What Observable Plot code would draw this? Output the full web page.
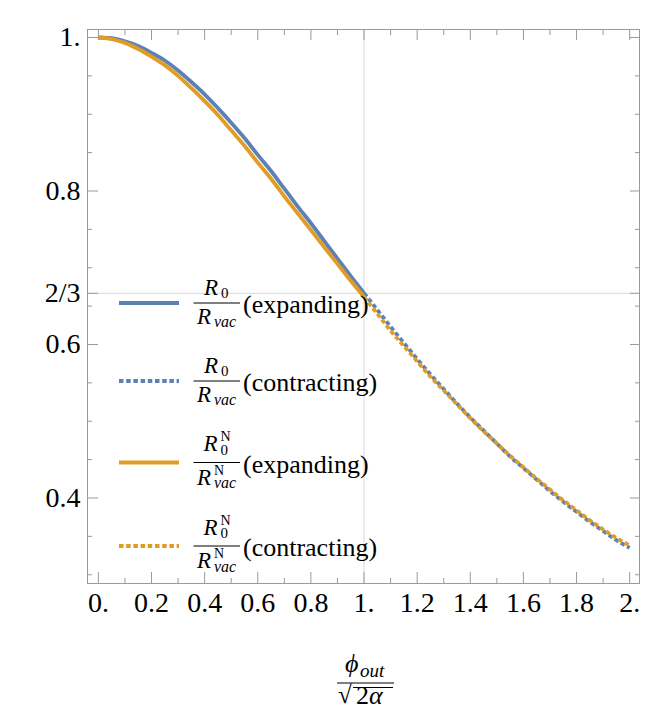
<!DOCTYPE html>
<html>
<head>
<meta charset="utf-8">
<script src="https://cdn.jsdelivr.net/npm/d3@7"></script>
<script src="https://cdn.jsdelivr.net/npm/@observablehq/plot@0.6"></script>
<style>
  html, body { margin: 0; padding: 0; background: #ffffff; }
  #chart svg { display: block; }
</style>
</head>
<body>
<div id="chart"></div>
<script>
// ---------- data ----------
const xExpanding = [0, 0.05, 0.1, 0.15, 0.2, 0.25, 0.3, 0.35, 0.4, 0.45, 0.5, 0.55, 0.6, 0.65, 0.7, 0.75, 0.8, 0.85, 0.9, 0.95, 1.0];
const blueExpanding = [1.000, 0.999, 0.995, 0.989, 0.980, 0.970, 0.957, 0.942, 0.926, 0.908, 0.889, 0.869, 0.847, 0.826, 0.803, 0.780, 0.758, 0.735, 0.712, 0.689, 0.667];
const orangeExpanding = [1.000, 0.998, 0.993, 0.985, 0.975, 0.964, 0.950, 0.934, 0.917, 0.899, 0.879, 0.859, 0.837, 0.816, 0.793, 0.771, 0.749, 0.727, 0.705, 0.683, 0.662];

const xContracting = [1.0, 1.05, 1.1, 1.15, 1.2, 1.25, 1.3, 1.35, 1.4, 1.45, 1.5, 1.55, 1.6, 1.65, 1.7, 1.75, 1.8, 1.85, 1.9, 1.95, 2.0];
const blueContracting = [0.667, 0.645, 0.623, 0.602, 0.581, 0.561, 0.542, 0.523, 0.505, 0.488, 0.471, 0.454, 0.439, 0.424, 0.409, 0.395, 0.382, 0.369, 0.357, 0.345, 0.335];
const orangeContracting = [0.662, 0.640, 0.618, 0.598, 0.578, 0.558, 0.540, 0.522, 0.504, 0.487, 0.471, 0.455, 0.440, 0.425, 0.411, 0.397, 0.384, 0.371, 0.359, 0.348, 0.338];

const xTickValues = [0, 0.2, 0.4, 0.6, 0.8, 1.0, 1.2, 1.4, 1.6, 1.8, 2.0];
const xTickLabels = ["0.", "0.2", "0.4", "0.6", "0.8", "1.", "1.2", "1.4", "1.6", "1.8", "2."];
const xMinorTicks = [0.1, 0.3, 0.5, 0.7, 0.9, 1.1, 1.3, 1.5, 1.7, 1.9];

const yTickValues = [0.4, 0.6, 2 / 3, 0.8, 1.0];
const yTickLabels = ["0.4", "0.6", "2/3", "0.8", "1."];
const yMinorTicks = [0.3, 0.35, 0.45, 0.5, 0.55, 0.65, 0.7, 0.75, 0.85, 0.9, 0.95];

const gridX = [1];
const gridY = [2 / 3];

const seriesColors = ["#5E81B5", "#5E81B5", "#E19C24", "#E19C24"];
const seriesDashed = [false, true, false, true];
const seriesNewtonian = [false, false, true, true];
const seriesLabels = ["(expanding)", "(contracting)", "(expanding)", "(contracting)"];

// ---------- tables ----------
const expRows = xExpanding.map((x, i) => ({x, blue: blueExpanding[i], orange: orangeExpanding[i]}));
const conRows = xContracting.map((x, i) => ({x, blue: blueContracting[i], orange: orangeContracting[i]}));
const xLabelMap = new Map(xTickValues.map((v, i) => [v, xTickLabels[i]]));
const yLabelMap = new Map(yTickValues.map((v, i) => [v, yTickLabels[i]]));

const FONT = "'Liberation Serif', 'DejaVu Serif', serif";
const TICK = "#9a9a9a";
const GRID = "#d9d9d9";
const DASH = "4.5,2.7";
const LW = 3.8;

const chart = Plot.plot({
  width: 646,
  height: 709,
  marginLeft: 87,
  marginRight: 7,
  marginTop: 29,
  marginBottom: 126,
  x: {domain: [-0.041, 2.037], label: null},
  y: {domain: [0.2886, 1.0104], label: null},
  style: {fontFamily: FONT, fontSize: "28px", background: "#ffffff", color: "#000000"},
  marks: [
    Plot.ruleX(gridX, {stroke: GRID, strokeWidth: 1}),
    Plot.ruleY(gridY, {stroke: GRID, strokeWidth: 1}),
    Plot.frame({stroke: TICK, strokeWidth: 1}),
    // inward ticks on all four sides
    Plot.axisX(xTickValues, {anchor: "bottom", tickSize: -11, stroke: TICK, fill: "none", label: null}),
    Plot.axisX(xMinorTicks, {anchor: "bottom", tickSize: -5, stroke: TICK, fill: "none", label: null}),
    Plot.axisX(xTickValues, {anchor: "top", tickSize: -10, stroke: TICK, fill: "none", label: null}),
    Plot.axisX(xMinorTicks, {anchor: "top", tickSize: -5, stroke: TICK, fill: "none", label: null}),
    Plot.axisY(yTickValues, {anchor: "left", tickSize: -11, stroke: TICK, fill: "none", label: null}),
    Plot.axisY(yMinorTicks, {anchor: "left", tickSize: -5, stroke: TICK, fill: "none", label: null}),
    Plot.axisY(yTickValues, {anchor: "right", tickSize: -10, stroke: TICK, fill: "none", label: null}),
    Plot.axisY(yMinorTicks, {anchor: "right", tickSize: -5, stroke: TICK, fill: "none", label: null}),
    // tick labels
    Plot.axisX(xTickValues, {anchor: "bottom", tickSize: 0, tickPadding: 9, fontSize: 28, fill: "#000", tickFormat: d => xLabelMap.get(d), label: null}),
    Plot.axisY(yTickValues, {anchor: "left", tickSize: 0, tickPadding: 7, fontSize: 28, fill: "#000", tickFormat: d => yLabelMap.get(d), label: null}),
    // curves
    Plot.line(expRows, {x: "x", y: "blue", stroke: seriesColors[0], strokeWidth: LW, strokeLinecap: "butt", curve: "monotone-x"}),
    Plot.line(conRows, {x: "x", y: "blue", stroke: seriesColors[1], strokeWidth: LW, strokeLinecap: "butt", strokeDasharray: DASH, curve: "monotone-x"}),
    Plot.line(expRows, {x: "x", y: "orange", stroke: seriesColors[2], strokeWidth: LW, strokeLinecap: "butt", curve: "monotone-x"}),
    Plot.line(conRows, {x: "x", y: "orange", stroke: seriesColors[3], strokeWidth: LW, strokeLinecap: "butt", strokeDasharray: DASH, curve: "monotone-x"})
  ]
});
document.getElementById("chart").appendChild(chart);

// ---------- helpers ----------
const svg = d3.select(chart);
function txt(g, x, y, s, size, italic) {
  const t = g.append("text").attr("x", x).attr("y", y).attr("font-size", size)
    .attr("font-family", FONT).attr("text-anchor", "start")
    .attr("fill", "#000").attr("stroke", "none").text(s);
  if (italic) t.attr("font-style", "italic");
  return t;
}
// R with optional superscript N and a subscript, as one text element
function symR(g, x, y, sub, subItalic, sup) {
  const t = g.append("text").attr("x", x).attr("y", y).attr("font-family", FONT)
    .attr("text-anchor", "start").attr("fill", "#000").attr("stroke", "none");
  t.append("tspan").attr("font-size", 23).attr("font-style", "italic").text("R");
  const sx = x + 17;
  if (sup) {
    t.append("tspan").attr("x", sx).attr("y", y - 10).attr("font-size", 14).text(sup);
    t.append("tspan").attr("x", sx).attr("y", y + 3.5).attr("font-size", subItalic ? 16 : 15)
      .attr("font-style", subItalic ? "italic" : null).text(sub);
  } else {
    t.append("tspan").attr("x", sx).attr("y", y + 3.5).attr("font-size", subItalic ? 16 : 15)
      .attr("font-style", subItalic ? "italic" : null).text(sub);
  }
  return t;
}

// ---------- legend (inside the frame) ----------
const legendBarY = [303, 381, 462.5, 546];
const lg = svg.append("g").attr("class", "legend").attr("text-anchor", "start");
seriesLabels.forEach((label, i) => {
  const g = lg.append("g").attr("transform", `translate(0,${legendBarY[i]})`);
  g.append("line").attr("x1", 119).attr("x2", 179).attr("y1", 0).attr("y2", 0)
    .attr("stroke", seriesColors[i]).attr("stroke-width", LW)
    .attr("stroke-dasharray", seriesDashed[i] ? DASH : null);
  g.append("line").attr("x1", 193.5).attr("x2", 240).attr("y1", 0).attr("y2", 0)
    .attr("stroke", "#000").attr("stroke-width", 1);
  if (!seriesNewtonian[i]) {
    symR(g, 204, -8.5, "0", false, null);
    symR(g, 197, 20.5, "vac", true, null);
  } else {
    symR(g, 203.5, -11.5, "0", false, "N");
    symR(g, 197, 22, "vac", true, "N");
  }
  txt(g, 243, 10, label, 26, false);
});

// ---------- x-axis title: phi_out / sqrt(2 alpha) ----------
const tg = svg.append("g").attr("class", "xtitle").attr("text-anchor", "start");
const num = tg.append("text").attr("x", 345).attr("y", 672).attr("font-family", FONT)
  .attr("text-anchor", "start").attr("fill", "#000");
num.append("tspan").attr("font-size", 26).attr("font-style", "italic").text("ϕ");
num.append("tspan").attr("x", 360).attr("y", 677).attr("font-size", 19).attr("font-style", "italic").text("out");
tg.append("line").attr("x1", 337).attr("x2", 394).attr("y1", 683).attr("y2", 683)
  .attr("stroke", "#000").attr("stroke-width", 1);
tg.append("line").attr("x1", 353).attr("x2", 393).attr("y1", 687.5).attr("y2", 687.5)
  .attr("stroke", "#000").attr("stroke-width", 1);
const den = tg.append("text").attr("x", 338).attr("y", 703).attr("font-family", FONT)
  .attr("text-anchor", "start").attr("fill", "#000");
den.append("tspan").attr("font-size", 25).text("√");
den.append("tspan").attr("x", 356).attr("y", 704).attr("font-size", 26).text("2");
den.append("tspan").attr("x", 369).attr("y", 704).attr("font-size", 26).attr("font-style", "italic").text("α");
</script>
</body>
</html>
